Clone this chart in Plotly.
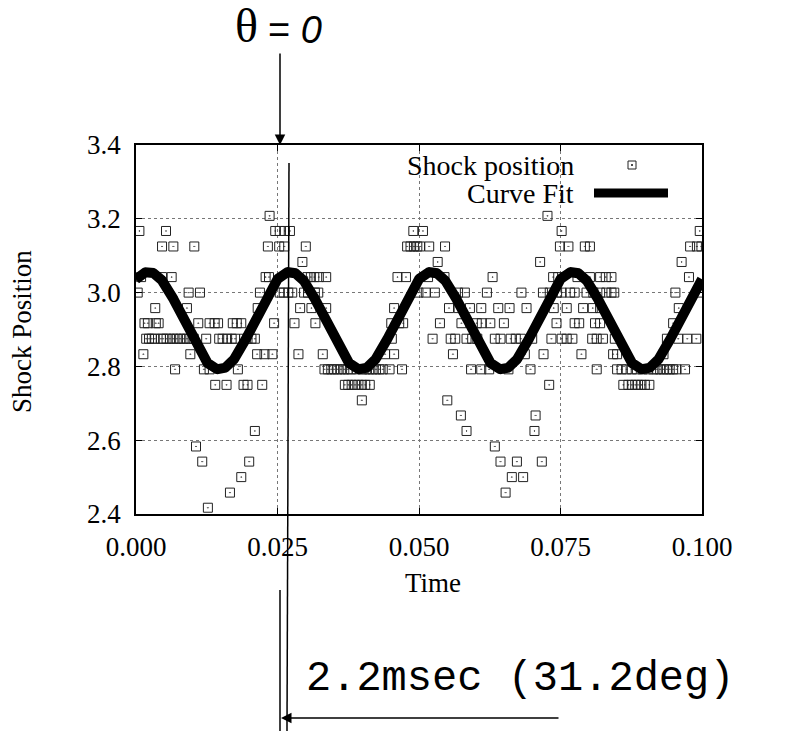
import numpy as np
import plotly.graph_objects as go

# ---------------- data ----------------
# quantised shock-position levels and the times (ms) at which each level was observed
shock_levels = [3.208, 3.167, 3.125, 3.083, 3.042, 3.000, 2.958, 2.917, 2.875,
                2.833, 2.792, 2.750, 2.708, 2.667, 2.625, 2.583, 2.542, 2.500,
                2.458, 2.417]
t_3208 = [23.6, 72.7]
t_3167 = [0.6, 5.3, 24.6, 25.4, 26.3, 27.2, 49.0, 50.7, 75.2, 99.6]
t_3125 = [4.6, 6.6, 10.3, 23.3, 25.3, 26.2, 30.0, 47.9, 48.5, 49.1, 49.7, 50.2, 51.8,
          54.6, 74.9, 76.4, 79.3, 80.2, 97.9, 99.1, 99.9]
t_3083 = [29.4, 53.3, 71.4, 96.4]
t_3042 = [0.9, 4.6, 6.3, 22.9, 23.5, 30.3, 30.9, 31.5, 32.3, 33.6, 46.2, 47.7, 51.6, 54.5,
          63.0, 73.7, 74.6, 78.0, 80.2, 82.0, 83.0, 84.0, 97.7]
t_3000 = [0.3, 9.3, 11.3, 21.9, 25.4, 26.1, 26.9, 27.6, 29.7, 30.4, 31.6, 32.2, 49.9, 51.2,
          52.8, 56.9, 58.1, 62.0, 68.1, 71.9, 73.1, 74.4, 75.2, 76.7, 77.5, 79.6, 80.8,
          82.0, 83.1, 84.0, 84.5, 95.3, 99.4]
t_2958 = [3.4, 9.0, 21.5, 29.0, 31.0, 33.6, 45.6, 55.3, 57.0, 59.0, 61.0, 64.0, 66.0,
          69.0, 73.8, 76.1, 79.0, 80.7, 82.0, 95.9]
t_2917 = [1.5, 2.1, 3.5, 4.0, 11.0, 13.0, 13.9, 14.5, 17.1, 17.8, 18.6, 24.4, 28.0, 31.7,
          45.1, 46.5, 47.2, 53.7, 57.5, 60.2, 61.1, 62.6, 65.0, 74.3, 77.5, 78.3, 81.1,
          82.0, 94.9]
t_2875 = [1.8, 2.3, 2.8, 3.3, 4.4, 4.8, 5.4, 6.0, 6.6, 7.2, 7.8, 8.4, 9.0, 9.6, 10.2,
          12.4, 14.7, 15.3, 16.1, 16.9, 17.5, 19.1, 19.7, 20.4, 21.0, 45.2, 52.4, 55.6,
          56.4, 58.4, 59.4, 60.3, 63.4, 64.4, 66.2, 67.1, 68.0, 70.0, 73.4, 75.2, 76.1,
          77.1, 80.6, 81.4, 82.5, 84.6, 93.8, 95.8, 97.4, 99.0]
t_2833 = [1.3, 9.6, 21.4, 22.7, 24.1, 28.7, 33.0, 44.0, 45.6, 56.0, 68.7, 72.0, 78.7,
          84.3, 85.0, 93.2]
t_2792 = [6.9, 12.0, 13.0, 18.0, 33.3, 33.9, 34.5, 35.0, 35.6, 36.2, 36.8, 37.4, 38.0,
          39.0, 40.0, 40.6, 41.2, 41.8, 42.4, 43.0, 43.6, 44.8, 47.0, 59.2, 61.0, 62.4,
          65.8, 69.7, 81.4, 85.0, 85.8, 86.7, 87.6, 88.5, 89.5, 90.5, 91.4, 92.0, 92.6,
          93.2, 93.8, 94.3, 94.9, 95.5, 97.0]
t_2750 = [14.0, 16.0, 19.0, 19.7, 22.3, 36.9, 37.5, 38.1, 38.7, 39.3, 39.9, 40.5, 41.3,
          73.0, 86.1, 87.0, 87.6, 88.2, 88.7, 89.3, 89.9, 90.7]
t_2708 = [39.9, 55.0]
t_2667 = [57.4, 70.6]
t_2625 = [21.0, 58.4, 70.4]
t_2583 = [10.6, 63.4]
t_2542 = [11.7, 20.0, 64.4, 67.3, 71.7]
t_2500 = [18.6, 66.4, 68.4]
t_2458 = [16.6, 65.3]
t_2417 = [12.7]
shock_times_ms = [t_3208, t_3167, t_3125, t_3083, t_3042, t_3000, t_2958, t_2917,
                  t_2875, t_2833, t_2792, t_2750, t_2708, t_2667, t_2625, t_2583,
                  t_2542, t_2500, t_2458, t_2417]

# curve-fit parameters (sinusoid)
fit_mean = 2.924
fit_amp = 0.132
fit_period = 0.025
fit_peak_time = 0.0022

x_ticks = [0.0, 0.025, 0.05, 0.075, 0.1]
y_ticks = [2.4, 2.6, 2.8, 3.0, 3.2, 3.4]

# ---------------- build ----------------
sx, sy = [], []
for lev, times in zip(shock_levels, shock_times_ms):
    for tm in times:
        sx.append(tm / 1000.0)
        sy.append(lev)

t_fit = np.linspace(0, 0.1, 1001)
y_fit = fit_mean + fit_amp * np.cos(2 * np.pi * (t_fit - fit_peak_time) / fit_period)

W, H = 795, 731
L, R, T, B = 136, 702, 145, 514


def px(x):
    return (x - L) / (R - L)


def py(y):
    return (B - y) / (B - T)


SERIF = "Liberation Serif"
FS = 27

fig = go.Figure()
fig.add_trace(go.Scatter(x=sx, y=sy, mode="markers", name="Shock position",
                         marker=dict(symbol="square-open-dot", size=9, color="#222",
                                     line=dict(width=1, color="#222")),
                         showlegend=False, cliponaxis=True))
fig.add_trace(go.Scatter(x=t_fit, y=y_fit, mode="lines", name="Curve Fit",
                         line=dict(color="black", width=10), showlegend=False))

axis_common = dict(showline=True, linecolor="black", linewidth=1.5, mirror="allticks",
                   ticks="inside", ticklen=6, tickcolor="black", tickwidth=1,
                   showgrid=True, gridcolor="#777", griddash="dot", gridwidth=1,
                   zeroline=False, tickfont=dict(family=SERIF, size=FS, color="black"))

fig.update_layout(
    width=W, height=H, margin=dict(l=L, r=W - R, t=T, b=H - B),
    paper_bgcolor="white", plot_bgcolor="white",
    xaxis=dict(range=[0, 0.1], tickvals=x_ticks, tickformat=".3f",
               ticklabelstandoff=8, **axis_common),
    yaxis=dict(range=[2.4, 3.4], tickvals=y_ticks, tickformat=".1f",
               ticklabelstandoff=8, **axis_common),
)


def label(text, x, y, size=FS, family=SERIF, xanchor="center", **kw):
    return dict(text=text, x=px(x), y=py(y), xref="paper", yref="paper",
                xanchor=xanchor, yanchor="middle", showarrow=False,
                font=dict(family=family, size=size, color="black"), **kw)


ann = []
# axis titles
ann.append(label("Time", 433, 583))
ann.append(label("Shock Position", 22, 332, textangle=-90))
# legend texts
ann.append(label("Shock position", 576, 165, size=28, xanchor="right"))
ann.append(label("Curve Fit", 576, 194, size=28, xanchor="right"))
# theta = 0 label
ann.append(label("θ", 246, 26, size=48))
ann.append(label("= <i>0</i>", 266, 30, size=38, family="Liberation Sans", xanchor="left"))
ann.append(label("2.2msec (31.2deg)", 304, 679, size=42, family="Liberation Mono",
                 xanchor="left"))
# arrow down to theta=0
ann.append(dict(text="", x=px(280), y=py(145), xref="paper", yref="paper",
                showarrow=True, ax=0, ay=-93, arrowhead=2, arrowsize=1.4,
                arrowwidth=1.5, arrowcolor="black", standoff=0))
# horizontal arrow for delay
ann.append(dict(text="", x=px(281), y=py(718), xref="paper", yref="paper",
                showarrow=True, ax=279, ay=0, arrowhead=2, arrowsize=1.4,
                arrowwidth=1.5, arrowcolor="black", standoff=0))
fig.update_layout(annotations=ann)

shapes = []
# legend samples
shapes.append(dict(type="rect", xref="paper", yref="paper",
                   x0=px(628), x1=px(636), y0=py(169), y1=py(161),
                   line=dict(color="#222", width=1)))
shapes.append(dict(type="rect", xref="paper", yref="paper",
                   x0=px(631.5), x1=px(632.5), y0=py(165.5), y1=py(164.5),
                   line=dict(color="#222", width=1), fillcolor="#222"))
shapes.append(dict(type="line", xref="paper", yref="paper",
                   x0=px(594), x1=px(668), y0=py(193), y1=py(193),
                   line=dict(color="black", width=9)))
# vertical marker lines
shapes.append(dict(type="line", xref="paper", yref="paper",
                   x0=px(289), x1=px(287), y0=py(163), y1=py(731),
                   line=dict(color="black", width=1.5)))
shapes.append(dict(type="line", xref="paper", yref="paper",
                   x0=px(280), x1=px(280), y0=py(590), y1=py(731),
                   line=dict(color="black", width=1.5)))
fig.update_layout(shapes=shapes)

fig.write_html("out.html")
